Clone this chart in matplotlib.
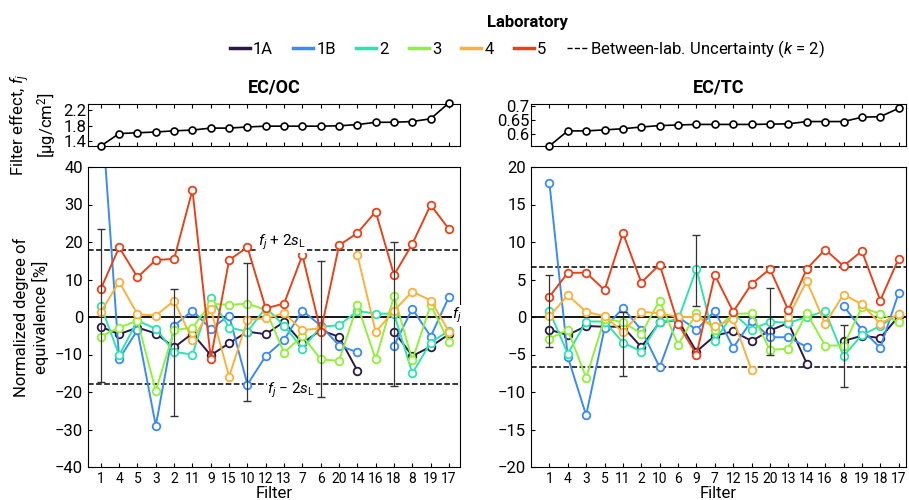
import numpy as np
import matplotlib.pyplot as plt
from matplotlib.lines import Line2D

plt.rcParams['font.family'] = ['Roboto', 'DejaVu Sans']
plt.rcParams['mathtext.fontset'] = 'custom'
plt.rcParams['mathtext.it'] = 'Roboto:italic'
plt.rcParams['mathtext.rm'] = 'Roboto'

nan = np.nan
labs = ['1A', '1B', '2', '3', '4', '5']
colors = ['#2a1a45', '#3b8bf5', '#2ee3b0', '#90f03a', '#fdb13a', '#e8421a']

# EC/OC panel
ecoc_filters = ['1', '4', '5', '3', '2', '11', '9', '15', '10', '12', '13', '7', '6', '20', '14', '16', '18', '8', '19', '17']
ecoc_f = [1.28, 1.60, 1.62, 1.64, 1.67, 1.69, 1.74, 1.74, 1.77, 1.79, 1.79, 1.79, 1.79, 1.80, 1.83, 1.89, 1.89, 1.91, 1.98, 2.39]
ecoc_1A = [-2.6, -4.6, -2.8, -4.4, -8.1, -4.4, -10.2, -7.0, -3.9, -4.6, -1.3, -7.0, -3.5, -5.3, -14.3, nan, -3.9, -10.4, -7.9, -4.6]
ecoc_1B = [58, -11.2, -3.5, -29, -2.3, 1.7, -3.2, 0.4, -18, -10.4, -6.1, 1.7, -2.3, -7.6, -9.4, nan, -7.6, 2.2, -5.2, 5.4]
ecoc_2 = [3, -10.2, -1, -3.1, -9.3, -10, 5.2, -2.8, -3.9, 2.5, -2.3, -8.4, -2.6, -2.2, 1.6, 0.9, 0.9, -15, -6.8, -3.6]
ecoc_3 = [-5.2, -2.8, -1, -19.7, -3.5, -2.8, 3.6, 3.2, 3.6, 1.9, -9.5, -5, -11.3, -11.7, 3.2, -11.3, 5.6, -11.5, 3.2, -6.6]
ecoc_4 = [1.3, 9.4, 0.7, 0.4, 4.3, -6.2, 2.1, -15.9, -0.8, -0.3, 1, -3.5, -3, nan, 16.5, -4, 1.7, 6.8, 4.4, -3.9]
ecoc_5 = [7.5, 18.6, 10.6, 15.2, 15.5, 33.9, -11.1, 15.2, 18.6, 2.3, 3.6, 16.5, -3.9, 19.1, 22.4, 28.1, 11.2, 19.5, 29.9, 23.4]
ecoc_u = 17.9
ecoc_err_idx = [0, 4, 8, 12, 16]
ecoc_err_lo = [-17.4, -26.4, -22.3, -21.2, -18.3]
ecoc_err_hi = [23.4, 7.6, 14.3, 14.9, 20.1]

# EC/TC panel
ectc_filters = ['1', '4', '3', '5', '11', '2', '10', '6', '9', '7', '12', '15', '20', '13', '14', '16', '8', '19', '18', '17']
ectc_f = [0.560, 0.6125, 0.6125, 0.616, 0.620, 0.626, 0.631, 0.633, 0.635, 0.635, 0.635, 0.635, 0.636, 0.637, 0.645, 0.645, 0.645, 0.660, 0.662, 0.691]
ectc_1A = [-1.7, -2.4, -1.2, -1.3, -1.3, -4, -0.7, -0.4, -4.6, -2.5, -1.9, -3.2, -1.8, -0.8, -6.2, nan, -3.2, -2.5, -2.8, 0.1]
ectc_1B = [17.9, -5.3, -13.1, -1.5, 1.2, -1.7, -6.7, 0, -1.7, 0.8, -4.1, -0.5, -2.7, -2.7, -4, nan, 1.5, -1.7, -4.1, 3.2]
ectc_2 = [0.8, -4.9, -0.6, -0.6, -3.4, -4.6, -0.6, -0.4, 6.4, -3.2, 0.5, -1.7, -0.6, -0.8, 0, 0.8, -5.2, -2.4, -1.2, 0.4]
ectc_3 = [-2.9, -1.7, -8.1, -0.2, -0.7, -2.2, 2.2, -3.7, 0.5, -1.7, 0.4, 0.5, -4.4, -4.2, 0.5, -3.8, -3.8, 1.3, 0.4, -0.7]
ectc_4 = [0.1, 2.9, 0.7, 0.1, -2, 0.7, 0.5, 0, 0, -1.2, -0.3, -7.1, nan, 0, 4.8, -0.9, 3, 1.7, -0.9, 0.4]
ectc_5 = [2.7, 5.9, 5.9, 3.6, 11.2, 4.6, 7, -0.9, -5, 5.6, 0.7, 4.4, 6.4, 0.9, 6.4, 9, 6.8, 8.8, 2.2, 7.8]
ectc_u = 6.7
ectc_err_idx = [0, 4, 8, 12, 16]
ectc_err_lo = [-4, -7.8, 1.5, -5.1, -9.3]
ectc_err_hi = [5.6, 0.7, 11, 3.9, -1]

fig = plt.figure(figsize=(9.09, 5), dpi=100)


def panel(left, width, title, filters, f, series, u, eidx, elo, ehi, xlim, ylim, ftop, fticks, flabels, yticks, notes):
    x = np.arange(len(filters))
    at = fig.add_axes([left / 909, 1 - 146 / 500, width / 909, 42 / 500])
    am = fig.add_axes([left / 909, 1 - 467 / 500, width / 909, 300 / 500])
    at.plot(x, f, '-o', color='black', mfc='white', ms=5, mew=1.2, lw=1.2, clip_on=False, zorder=3)
    at.set_xlim(xlim)
    at.set_ylim(ftop)
    at.set_yticks(fticks)
    at.set_yticklabels(flabels)
    at.set_xticks(x)
    at.set_xticklabels([])
    at.tick_params(direction='in', top=True, length=3, labelsize=12, pad=1)
    at.set_title(title, fontsize=13, fontweight='bold', pad=8)

    am.axhline(0, color='black', lw=1.3)
    am.axhline(u, color='black', ls='--', lw=1.1)
    am.axhline(-u, color='black', ls='--', lw=1.1)
    for vals, c in zip(series, colors):
        am.plot(x, vals, '-o', color=c, mfc='white', ms=5.5, mew=1.3, lw=1.4)
    elo = np.array(elo)
    ehi = np.array(ehi)
    mid = (elo + ehi) / 2
    am.errorbar(np.array(eidx), mid, yerr=(ehi - elo) / 2, fmt='none', ecolor='#333333', elinewidth=0.9, capsize=3)
    am.set_xlim(xlim)
    am.set_ylim(ylim)
    am.set_yticks(yticks)
    am.set_xticks(x)
    am.set_xticklabels(filters, fontsize=10)
    am.tick_params(axis='y', labelsize=12)
    am.tick_params(direction='in', length=3)
    am.set_xlabel('Filter', fontsize=12, labelpad=0)
    for tx, ty, s in notes:
        am.text(tx, ty, s, fontsize=11, ha='center', va='center',
                bbox=dict(facecolor='white', edgecolor='none', pad=0.5))
    return at, am


at1, am1 = panel(88, 372, 'EC/OC', ecoc_filters, ecoc_f,
                 [ecoc_1A, ecoc_1B, ecoc_2, ecoc_3, ecoc_4, ecoc_5], ecoc_u,
                 ecoc_err_idx, ecoc_err_lo, ecoc_err_hi, (-0.7, 19.6), (-40, 40),
                 (1.28, 2.36), [1.4, 1.8, 2.2], ['1.4', '1.8', '2.2'], np.arange(-40, 41, 10),
                 [(9.9, 19.8, '$f_j$ + 2$s_\\mathrm{L}$'), (10.4, -19.6, '$f_j$ − 2$s_\\mathrm{L}$'),
                  (19.45, 0.4, '$f_j$')])
at1.set_ylabel('Filter effect, $f_j$\n[µg/cm$^2$]', fontsize=12, labelpad=4)
am1.set_ylabel('Normalized degree of\nequivalence [%]', fontsize=12)

at2, am2 = panel(531, 375, 'EC/TC', ectc_filters, ectc_f,
                 [ectc_1A, ectc_1B, ectc_2, ectc_3, ectc_4, ectc_5], ectc_u,
                 ectc_err_idx, ectc_err_lo, ectc_err_hi, (-1.0, 19.4), (-20, 20),
                 (0.560, 0.706), [0.6, 0.65, 0.7], ['0.6', '0.65', '0.7'], np.arange(-20, 21, 5), [])

handles = [Line2D([], [], color=c, lw=2.5) for c in colors]
handles.append(Line2D([], [], color='black', ls='--', lw=1))
names = labs + ['Between-lab. Uncertainty ($k$ = 2)']
leg = fig.legend(handles, names, loc='upper center', bbox_to_anchor=(0.58, 1.0), ncol=7,
                 frameon=False, fontsize=12, title='Laboratory', handlelength=1.2,
                 handletextpad=0.2, columnspacing=1.2,
                 title_fontproperties={'weight': 'bold', 'size': 12})

fig.savefig('out.png', dpi=100)
